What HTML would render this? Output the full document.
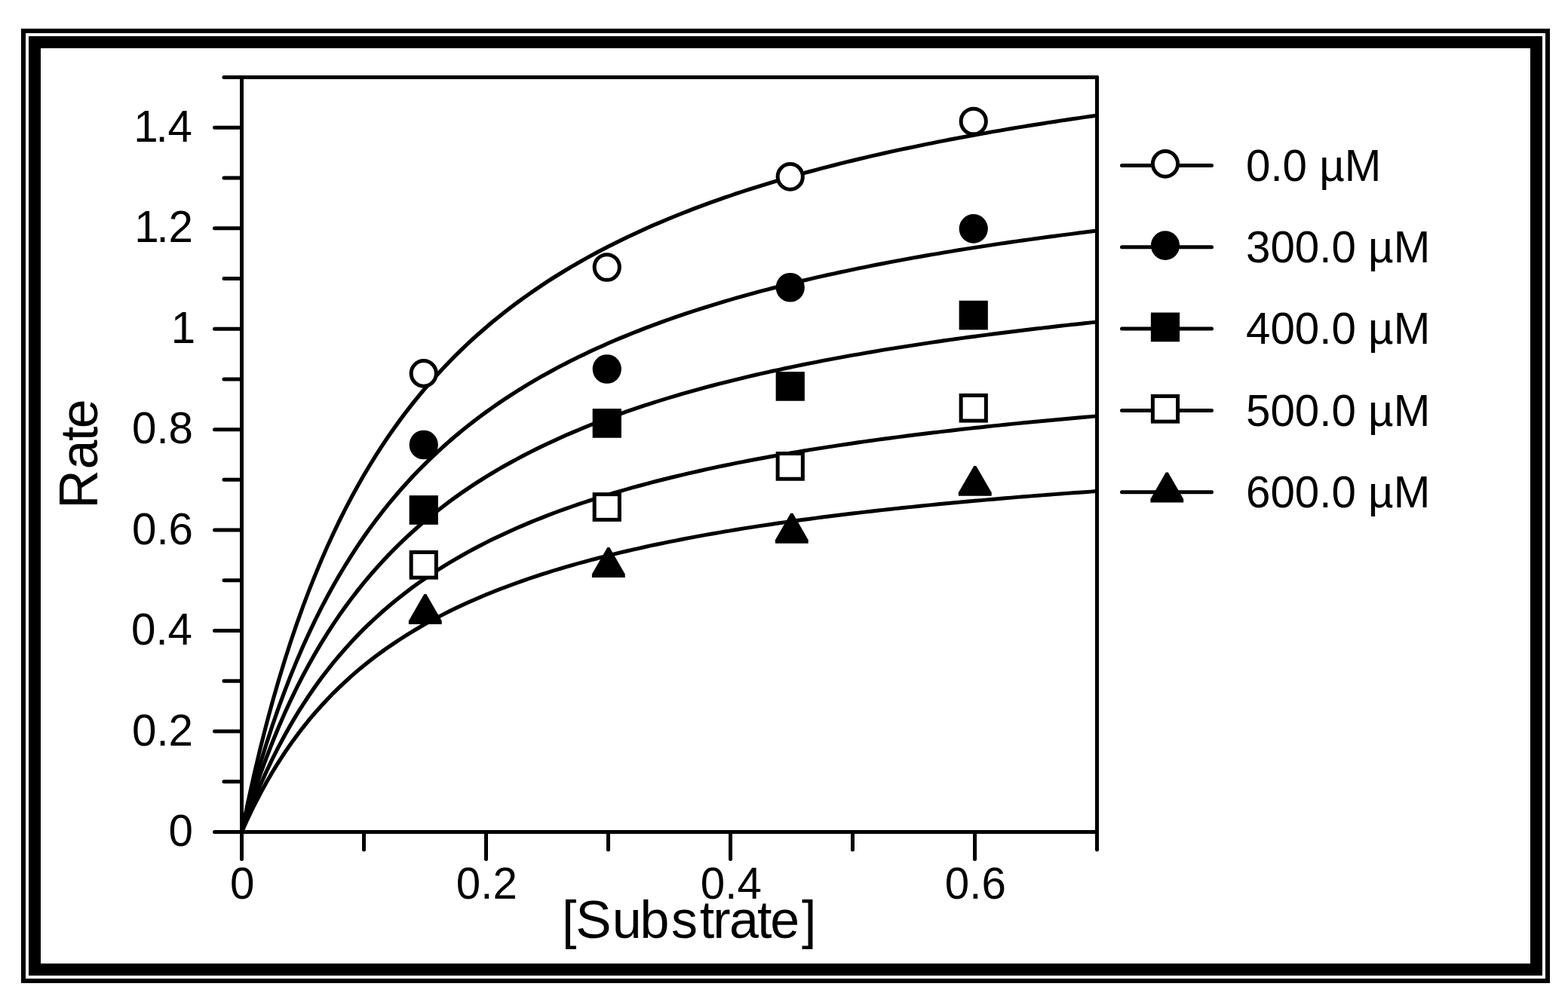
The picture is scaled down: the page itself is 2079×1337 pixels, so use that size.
<!DOCTYPE html>
<html lang="en"><head><meta charset="utf-8"><title>Rate vs [Substrate]</title>
<style>
html,body{margin:0;padding:0;background:#fff;}
body{width:2079px;height:1337px;overflow:hidden;position:relative;}
svg{display:block;position:absolute;left:0;top:0;}
text{font-family:"Liberation Sans",Arial,Helvetica,sans-serif;fill:#000;}
.t{font-size:58.3px;}
.l{font-size:70px;}
.c{font-size:71px;}
.c2{font-size:71.5px;}
</style></head><body>
<svg width="2079" height="1337" viewBox="0 0 2079 1337">
<rect x="0" y="0" width="2079" height="1337" fill="#fff"/>
<g fill="none" stroke="#000">
<rect x="31" y="41" width="2021" height="1260" stroke-width="6"/>
<rect x="46" y="56" width="1991" height="1230" stroke-width="16"/>
</g>
<g fill="none" stroke="#000" stroke-width="5" stroke-linecap="round">
<path d="M320.5 102.5V1139.5"/>
<path d="M284.5 1103.5H1454.5"/>
<path d="M1454.5 102.5V1127.0" stroke-linecap="round"/>
<path d="M297.0 102.5H1454.5"/>
<path d="M297.00 1036.77H320.5M284.50 970.03H320.5M297.00 903.30H320.5M284.50 836.57H320.5M297.00 769.83H320.5M284.50 703.10H320.5M297.00 636.37H320.5M284.50 569.63H320.5M297.00 502.90H320.5M284.50 436.17H320.5M297.00 369.43H320.5M284.50 302.70H320.5M297.00 235.97H320.5M284.50 169.23H320.5M482.50 1103.5V1127.00M644.50 1103.5V1139.50M806.50 1103.5V1127.00M968.50 1103.5V1139.50M1130.50 1103.5V1127.00M1292.50 1103.5V1139.50"/>
</g>
<g fill="none" stroke="#000" stroke-width="4.1" stroke-linejoin="round" stroke-linecap="butt">
<path d="M320.1 1103.1L328.2 1064.1L336.3 1027.6L344.4 993.5L352.5 961.5L360.6 931.4L368.7 903.1L376.8 876.3L384.9 851.1L393.0 827.2L401.1 804.6L409.2 783.1L417.3 762.7L425.4 743.2L433.5 724.7L441.6 707.1L449.7 690.2L457.8 674.1L465.9 658.7L474.0 643.9L482.1 629.7L490.2 616.2L498.3 603.1L506.4 590.6L514.5 578.5L522.6 567.0L530.7 555.8L538.8 545.0L546.9 534.6L555.0 524.6L563.1 514.9L571.2 505.6L579.3 496.6L587.4 487.8L595.5 479.3L603.6 471.1L611.7 463.2L619.8 455.5L627.9 448.0L636.0 440.8L644.1 433.8L652.2 426.9L660.3 420.3L668.4 413.9L676.5 407.6L684.6 401.5L692.7 395.6L700.8 389.8L708.9 384.2L717.0 378.7L725.1 373.3L733.2 368.1L741.3 363.1L749.4 358.1L757.5 353.3L765.6 348.6L773.7 344.0L781.8 339.5L789.9 335.1L798.0 330.8L806.1 326.6L814.2 322.5L822.3 318.5L830.4 314.6L838.5 310.8L846.6 307.0L854.7 303.3L862.8 299.7L870.9 296.2L879.0 292.8L887.1 289.4L895.2 286.1L903.3 282.8L911.4 279.7L919.5 276.5L927.6 273.5L935.7 270.5L943.8 267.5L951.9 264.7L960.0 261.8L968.1 259.1L976.2 256.3L984.3 253.6L992.4 251.0L1000.5 248.4L1008.6 245.9L1016.7 243.4L1024.8 240.9L1032.9 238.5L1041.0 236.2L1049.1 233.8L1057.2 231.6L1065.3 229.3L1073.4 227.1L1081.5 224.9L1089.6 222.8L1097.7 220.7L1105.8 218.6L1113.9 216.5L1122.0 214.5L1130.1 212.6L1138.2 210.6L1146.3 208.7L1154.4 206.8L1162.5 204.9L1170.6 203.1L1178.7 201.3L1186.8 199.5L1194.9 197.8L1203.0 196.1L1211.1 194.4L1219.2 192.7L1227.3 191.0L1235.4 189.4L1243.5 187.8L1251.6 186.2L1259.7 184.6L1267.8 183.1L1275.9 181.6L1284.0 180.1L1292.1 178.6L1300.2 177.2L1308.3 175.7L1316.4 174.3L1324.5 172.9L1332.6 171.5L1340.7 170.1L1348.8 168.8L1356.9 167.5L1365.0 166.1L1373.1 164.9L1381.2 163.6L1389.3 162.3L1397.4 161.1L1405.5 159.8L1413.6 158.6L1421.7 157.4L1429.8 156.2L1437.9 155.0L1446.0 153.9L1454.1 152.7"/>
<path d="M320.9 1103.9L329.0 1064.9L337.1 1028.4L345.2 994.3L353.3 962.3L361.4 932.2L369.5 903.9L377.6 877.1L385.7 851.9L393.8 828.0L401.9 805.4L410.0 783.9L418.1 763.5L426.2 744.0L434.3 725.5L442.4 707.9L450.5 691.0L458.6 674.9L466.7 659.5L474.8 644.7L482.9 630.5L491.0 617.0L499.1 603.9L507.2 591.4L515.3 579.3L523.4 567.8L531.5 556.6L539.6 545.8L547.7 535.4L555.8 525.4L563.9 515.7L572.0 506.4L580.1 497.4L588.2 488.6L596.3 480.1L604.4 471.9L612.5 464.0L620.6 456.3L628.7 448.8L636.8 441.6L644.9 434.6L653.0 427.7L661.1 421.1L669.2 414.7L677.3 408.4L685.4 402.3L693.5 396.4L701.6 390.6L709.7 385.0L717.8 379.5L725.9 374.1L734.0 368.9L742.1 363.9L750.2 358.9L758.3 354.1L766.4 349.4L774.5 344.8L782.6 340.3L790.7 335.9L798.8 331.6L806.9 327.4L815.0 323.3L823.1 319.3L831.2 315.4L839.3 311.6L847.4 307.8L855.5 304.1L863.6 300.5L871.7 297.0L879.8 293.6L887.9 290.2L896.0 286.9L904.1 283.6L912.2 280.5L920.3 277.3L928.4 274.3L936.5 271.3L944.6 268.3L952.7 265.5L960.8 262.6L968.9 259.9L977.0 257.1L985.1 254.4L993.2 251.8L1001.3 249.2L1009.4 246.7L1017.5 244.2L1025.6 241.7L1033.7 239.3L1041.8 237.0L1049.9 234.6L1058.0 232.4L1066.1 230.1L1074.2 227.9L1082.3 225.7L1090.4 223.6L1098.5 221.5L1106.6 219.4L1114.7 217.3L1122.8 215.3L1130.9 213.4L1139.0 211.4L1147.1 209.5L1155.2 207.6L1163.3 205.7L1171.4 203.9L1179.5 202.1L1187.6 200.3L1195.7 198.6L1203.8 196.9L1211.9 195.2L1220.0 193.5L1228.1 191.8L1236.2 190.2L1244.3 188.6L1252.4 187.0L1260.5 185.4L1268.6 183.9L1276.7 182.4L1284.8 180.9L1292.9 179.4L1301.0 178.0L1309.1 176.5L1317.2 175.1L1325.3 173.7L1333.4 172.3L1341.5 170.9L1349.6 169.6L1357.7 168.3L1365.8 166.9L1373.9 165.7L1382.0 164.4L1390.1 163.1L1398.2 161.9L1406.3 160.6L1414.4 159.4L1422.5 158.2L1430.6 157.0L1438.7 155.8L1446.8 154.7L1454.9 153.5"/>
<path d="M320.1 1103.1L328.2 1071.2L336.3 1041.4L344.4 1013.4L352.5 987.1L360.6 962.3L368.7 939.0L376.8 916.9L384.9 896.0L393.0 876.2L401.1 857.4L409.2 839.6L417.3 822.6L425.4 806.4L433.5 791.0L441.6 776.2L449.7 762.2L457.8 748.7L465.9 735.8L474.0 723.4L482.1 711.5L490.2 700.1L498.3 689.2L506.4 678.7L514.5 668.5L522.6 658.8L530.7 649.4L538.8 640.3L546.9 631.5L555.0 623.1L563.1 614.9L571.2 607.0L579.3 599.4L587.4 592.0L595.5 584.8L603.6 577.9L611.7 571.1L619.8 564.6L627.9 558.3L636.0 552.1L644.1 546.2L652.2 540.4L660.3 534.8L668.4 529.3L676.5 523.9L684.6 518.8L692.7 513.7L700.8 508.8L708.9 504.0L717.0 499.3L725.1 494.8L733.2 490.4L741.3 486.0L749.4 481.8L757.5 477.7L765.6 473.7L773.7 469.8L781.8 465.9L789.9 462.2L798.0 458.5L806.1 454.9L814.2 451.4L822.3 448.0L830.4 444.7L838.5 441.4L846.6 438.2L854.7 435.0L862.8 432.0L870.9 429.0L879.0 426.0L887.1 423.1L895.2 420.3L903.3 417.5L911.4 414.8L919.5 412.1L927.6 409.5L935.7 406.9L943.8 404.4L951.9 401.9L960.0 399.5L968.1 397.1L976.2 394.8L984.3 392.5L992.4 390.2L1000.5 388.0L1008.6 385.8L1016.7 383.7L1024.8 381.6L1032.9 379.5L1041.0 377.5L1049.1 375.5L1057.2 373.5L1065.3 371.6L1073.4 369.7L1081.5 367.8L1089.6 366.0L1097.7 364.1L1105.8 362.4L1113.9 360.6L1122.0 358.9L1130.1 357.2L1138.2 355.5L1146.3 353.9L1154.4 352.2L1162.5 350.6L1170.6 349.1L1178.7 347.5L1186.8 346.0L1194.9 344.5L1203.0 343.0L1211.1 341.5L1219.2 340.1L1227.3 338.6L1235.4 337.2L1243.5 335.9L1251.6 334.5L1259.7 333.2L1267.8 331.8L1275.9 330.5L1284.0 329.2L1292.1 327.9L1300.2 326.7L1308.3 325.5L1316.4 324.2L1324.5 323.0L1332.6 321.8L1340.7 320.6L1348.8 319.5L1356.9 318.3L1365.0 317.2L1373.1 316.1L1381.2 315.0L1389.3 313.9L1397.4 312.8L1405.5 311.7L1413.6 310.7L1421.7 309.7L1429.8 308.6L1437.9 307.6L1446.0 306.6L1454.1 305.6"/>
<path d="M320.9 1103.9L329.0 1072.0L337.1 1042.2L345.2 1014.2L353.3 987.9L361.4 963.1L369.5 939.8L377.6 917.7L385.7 896.8L393.8 877.0L401.9 858.2L410.0 840.4L418.1 823.4L426.2 807.2L434.3 791.8L442.4 777.0L450.5 763.0L458.6 749.5L466.7 736.6L474.8 724.2L482.9 712.3L491.0 700.9L499.1 690.0L507.2 679.5L515.3 669.3L523.4 659.6L531.5 650.2L539.6 641.1L547.7 632.3L555.8 623.9L563.9 615.7L572.0 607.8L580.1 600.2L588.2 592.8L596.3 585.6L604.4 578.7L612.5 571.9L620.6 565.4L628.7 559.1L636.8 552.9L644.9 547.0L653.0 541.2L661.1 535.6L669.2 530.1L677.3 524.7L685.4 519.6L693.5 514.5L701.6 509.6L709.7 504.8L717.8 500.1L725.9 495.6L734.0 491.2L742.1 486.8L750.2 482.6L758.3 478.5L766.4 474.5L774.5 470.6L782.6 466.7L790.7 463.0L798.8 459.3L806.9 455.7L815.0 452.2L823.1 448.8L831.2 445.5L839.3 442.2L847.4 439.0L855.5 435.8L863.6 432.8L871.7 429.8L879.8 426.8L887.9 423.9L896.0 421.1L904.1 418.3L912.2 415.6L920.3 412.9L928.4 410.3L936.5 407.7L944.6 405.2L952.7 402.7L960.8 400.3L968.9 397.9L977.0 395.6L985.1 393.3L993.2 391.0L1001.3 388.8L1009.4 386.6L1017.5 384.5L1025.6 382.4L1033.7 380.3L1041.8 378.3L1049.9 376.3L1058.0 374.3L1066.1 372.4L1074.2 370.5L1082.3 368.6L1090.4 366.8L1098.5 364.9L1106.6 363.2L1114.7 361.4L1122.8 359.7L1130.9 358.0L1139.0 356.3L1147.1 354.7L1155.2 353.0L1163.3 351.4L1171.4 349.9L1179.5 348.3L1187.6 346.8L1195.7 345.3L1203.8 343.8L1211.9 342.3L1220.0 340.9L1228.1 339.4L1236.2 338.0L1244.3 336.7L1252.4 335.3L1260.5 334.0L1268.6 332.6L1276.7 331.3L1284.8 330.0L1292.9 328.7L1301.0 327.5L1309.1 326.3L1317.2 325.0L1325.3 323.8L1333.4 322.6L1341.5 321.4L1349.6 320.3L1357.7 319.1L1365.8 318.0L1373.9 316.9L1382.0 315.8L1390.1 314.7L1398.2 313.6L1406.3 312.5L1414.4 311.5L1422.5 310.5L1430.6 309.4L1438.7 308.4L1446.8 307.4L1454.9 306.4"/>
<path d="M320.1 1103.1L328.2 1076.3L336.3 1051.2L344.4 1027.6L352.5 1005.5L360.6 984.6L368.7 964.9L376.8 946.2L384.9 928.6L393.0 911.9L401.1 896.0L409.2 880.9L417.3 866.6L425.4 852.9L433.5 839.8L441.6 827.3L449.7 815.4L457.8 804.0L465.9 793.1L474.0 782.6L482.1 772.5L490.2 762.8L498.3 753.5L506.4 744.6L514.5 736.0L522.6 727.7L530.7 719.7L538.8 712.0L546.9 704.6L555.0 697.4L563.1 690.5L571.2 683.8L579.3 677.3L587.4 671.0L595.5 664.9L603.6 659.0L611.7 653.3L619.8 647.7L627.9 642.3L636.0 637.1L644.1 632.0L652.2 627.1L660.3 622.3L668.4 617.6L676.5 613.1L684.6 608.7L692.7 604.4L700.8 600.2L708.9 596.1L717.0 592.1L725.1 588.3L733.2 584.5L741.3 580.8L749.4 577.2L757.5 573.7L765.6 570.3L773.7 566.9L781.8 563.6L789.9 560.4L798.0 557.3L806.1 554.3L814.2 551.3L822.3 548.4L830.4 545.5L838.5 542.7L846.6 540.0L854.7 537.3L862.8 534.7L870.9 532.1L879.0 529.6L887.1 527.1L895.2 524.7L903.3 522.3L911.4 520.0L919.5 517.7L927.6 515.5L935.7 513.3L943.8 511.1L951.9 509.0L960.0 506.9L968.1 504.9L976.2 502.9L984.3 500.9L992.4 499.0L1000.5 497.1L1008.6 495.3L1016.7 493.4L1024.8 491.6L1032.9 489.9L1041.0 488.1L1049.1 486.4L1057.2 484.7L1065.3 483.1L1073.4 481.5L1081.5 479.9L1089.6 478.3L1097.7 476.7L1105.8 475.2L1113.9 473.7L1122.0 472.2L1130.1 470.8L1138.2 469.4L1146.3 468.0L1154.4 466.6L1162.5 465.2L1170.6 463.8L1178.7 462.5L1186.8 461.2L1194.9 459.9L1203.0 458.7L1211.1 457.4L1219.2 456.2L1227.3 454.9L1235.4 453.7L1243.5 452.6L1251.6 451.4L1259.7 450.2L1267.8 449.1L1275.9 448.0L1284.0 446.9L1292.1 445.8L1300.2 444.7L1308.3 443.7L1316.4 442.6L1324.5 441.6L1332.6 440.6L1340.7 439.6L1348.8 438.6L1356.9 437.6L1365.0 436.6L1373.1 435.6L1381.2 434.7L1389.3 433.8L1397.4 432.8L1405.5 431.9L1413.6 431.0L1421.7 430.1L1429.8 429.3L1437.9 428.4L1446.0 427.5L1454.1 426.7"/>
<path d="M320.9 1103.9L329.0 1077.1L337.1 1052.0L345.2 1028.4L353.3 1006.3L361.4 985.4L369.5 965.7L377.6 947.0L385.7 929.4L393.8 912.7L401.9 896.8L410.0 881.7L418.1 867.4L426.2 853.7L434.3 840.6L442.4 828.1L450.5 816.2L458.6 804.8L466.7 793.9L474.8 783.4L482.9 773.3L491.0 763.6L499.1 754.3L507.2 745.4L515.3 736.8L523.4 728.5L531.5 720.5L539.6 712.8L547.7 705.4L555.8 698.2L563.9 691.3L572.0 684.6L580.1 678.1L588.2 671.8L596.3 665.7L604.4 659.8L612.5 654.1L620.6 648.5L628.7 643.1L636.8 637.9L644.9 632.8L653.0 627.9L661.1 623.1L669.2 618.4L677.3 613.9L685.4 609.5L693.5 605.2L701.6 601.0L709.7 596.9L717.8 592.9L725.9 589.1L734.0 585.3L742.1 581.6L750.2 578.0L758.3 574.5L766.4 571.1L774.5 567.7L782.6 564.4L790.7 561.2L798.8 558.1L806.9 555.1L815.0 552.1L823.1 549.2L831.2 546.3L839.3 543.5L847.4 540.8L855.5 538.1L863.6 535.5L871.7 532.9L879.8 530.4L887.9 527.9L896.0 525.5L904.1 523.1L912.2 520.8L920.3 518.5L928.4 516.3L936.5 514.1L944.6 511.9L952.7 509.8L960.8 507.7L968.9 505.7L977.0 503.7L985.1 501.7L993.2 499.8L1001.3 497.9L1009.4 496.1L1017.5 494.2L1025.6 492.4L1033.7 490.7L1041.8 488.9L1049.9 487.2L1058.0 485.5L1066.1 483.9L1074.2 482.3L1082.3 480.7L1090.4 479.1L1098.5 477.5L1106.6 476.0L1114.7 474.5L1122.8 473.0L1130.9 471.6L1139.0 470.2L1147.1 468.8L1155.2 467.4L1163.3 466.0L1171.4 464.6L1179.5 463.3L1187.6 462.0L1195.7 460.7L1203.8 459.5L1211.9 458.2L1220.0 457.0L1228.1 455.7L1236.2 454.5L1244.3 453.4L1252.4 452.2L1260.5 451.0L1268.6 449.9L1276.7 448.8L1284.8 447.7L1292.9 446.6L1301.0 445.5L1309.1 444.5L1317.2 443.4L1325.3 442.4L1333.4 441.4L1341.5 440.4L1349.6 439.4L1357.7 438.4L1365.8 437.4L1373.9 436.4L1382.0 435.5L1390.1 434.6L1398.2 433.6L1406.3 432.7L1414.4 431.8L1422.5 430.9L1430.6 430.1L1438.7 429.2L1446.8 428.3L1454.9 427.5"/>
<path d="M320.1 1103.1L328.2 1081.3L336.3 1060.9L344.4 1041.7L352.5 1023.6L360.6 1006.6L368.7 990.6L376.8 975.4L384.9 961.1L393.0 947.4L401.1 934.5L409.2 922.2L417.3 910.5L425.4 899.3L433.5 888.7L441.6 878.5L449.7 868.8L457.8 859.5L465.9 850.6L474.0 842.0L482.1 833.8L490.2 825.9L498.3 818.4L506.4 811.1L514.5 804.1L522.6 797.3L530.7 790.8L538.8 784.5L546.9 778.4L555.0 772.6L563.1 766.9L571.2 761.4L579.3 756.1L587.4 751.0L595.5 746.0L603.6 741.2L611.7 736.6L619.8 732.0L627.9 727.6L636.0 723.4L644.1 719.2L652.2 715.2L660.3 711.3L668.4 707.5L676.5 703.8L684.6 700.2L692.7 696.7L700.8 693.2L708.9 689.9L717.0 686.7L725.1 683.5L733.2 680.4L741.3 677.4L749.4 674.5L757.5 671.6L765.6 668.8L773.7 666.1L781.8 663.4L789.9 660.8L798.0 658.2L806.1 655.8L814.2 653.3L822.3 650.9L830.4 648.6L838.5 646.3L846.6 644.1L854.7 641.9L862.8 639.7L870.9 637.6L879.0 635.6L887.1 633.6L895.2 631.6L903.3 629.7L911.4 627.8L919.5 625.9L927.6 624.1L935.7 622.3L943.8 620.5L951.9 618.8L960.0 617.1L968.1 615.4L976.2 613.8L984.3 612.2L992.4 610.6L1000.5 609.1L1008.6 607.6L1016.7 606.1L1024.8 604.6L1032.9 603.2L1041.0 601.7L1049.1 600.3L1057.2 599.0L1065.3 597.6L1073.4 596.3L1081.5 595.0L1089.6 593.7L1097.7 592.4L1105.8 591.2L1113.9 590.0L1122.0 588.8L1130.1 587.6L1138.2 586.4L1146.3 585.2L1154.4 584.1L1162.5 583.0L1170.6 581.9L1178.7 580.8L1186.8 579.7L1194.9 578.7L1203.0 577.6L1211.1 576.6L1219.2 575.6L1227.3 574.6L1235.4 573.6L1243.5 572.7L1251.6 571.7L1259.7 570.8L1267.8 569.9L1275.9 568.9L1284.0 568.0L1292.1 567.1L1300.2 566.3L1308.3 565.4L1316.4 564.5L1324.5 563.7L1332.6 562.9L1340.7 562.0L1348.8 561.2L1356.9 560.4L1365.0 559.6L1373.1 558.9L1381.2 558.1L1389.3 557.3L1397.4 556.6L1405.5 555.8L1413.6 555.1L1421.7 554.4L1429.8 553.6L1437.9 552.9L1446.0 552.2L1454.1 551.5"/>
<path d="M320.9 1103.9L329.0 1082.1L337.1 1061.7L345.2 1042.5L353.3 1024.4L361.4 1007.4L369.5 991.4L377.6 976.2L385.7 961.9L393.8 948.2L401.9 935.3L410.0 923.0L418.1 911.3L426.2 900.1L434.3 889.5L442.4 879.3L450.5 869.6L458.6 860.3L466.7 851.4L474.8 842.8L482.9 834.6L491.0 826.7L499.1 819.2L507.2 811.9L515.3 804.9L523.4 798.1L531.5 791.6L539.6 785.3L547.7 779.2L555.8 773.4L563.9 767.7L572.0 762.2L580.1 756.9L588.2 751.8L596.3 746.8L604.4 742.0L612.5 737.4L620.6 732.8L628.7 728.4L636.8 724.2L644.9 720.0L653.0 716.0L661.1 712.1L669.2 708.3L677.3 704.6L685.4 701.0L693.5 697.5L701.6 694.0L709.7 690.7L717.8 687.5L725.9 684.3L734.0 681.2L742.1 678.2L750.2 675.3L758.3 672.4L766.4 669.6L774.5 666.9L782.6 664.2L790.7 661.6L798.8 659.0L806.9 656.6L815.0 654.1L823.1 651.7L831.2 649.4L839.3 647.1L847.4 644.9L855.5 642.7L863.6 640.5L871.7 638.4L879.8 636.4L887.9 634.4L896.0 632.4L904.1 630.5L912.2 628.6L920.3 626.7L928.4 624.9L936.5 623.1L944.6 621.3L952.7 619.6L960.8 617.9L968.9 616.2L977.0 614.6L985.1 613.0L993.2 611.4L1001.3 609.9L1009.4 608.4L1017.5 606.9L1025.6 605.4L1033.7 604.0L1041.8 602.5L1049.9 601.1L1058.0 599.8L1066.1 598.4L1074.2 597.1L1082.3 595.8L1090.4 594.5L1098.5 593.2L1106.6 592.0L1114.7 590.8L1122.8 589.6L1130.9 588.4L1139.0 587.2L1147.1 586.0L1155.2 584.9L1163.3 583.8L1171.4 582.7L1179.5 581.6L1187.6 580.5L1195.7 579.5L1203.8 578.4L1211.9 577.4L1220.0 576.4L1228.1 575.4L1236.2 574.4L1244.3 573.5L1252.4 572.5L1260.5 571.6L1268.6 570.7L1276.7 569.7L1284.8 568.8L1292.9 567.9L1301.0 567.1L1309.1 566.2L1317.2 565.3L1325.3 564.5L1333.4 563.7L1341.5 562.8L1349.6 562.0L1357.7 561.2L1365.8 560.4L1373.9 559.7L1382.0 558.9L1390.1 558.1L1398.2 557.4L1406.3 556.6L1414.4 555.9L1422.5 555.2L1430.6 554.4L1438.7 553.7L1446.8 553.0L1454.9 552.3"/>
<path d="M320.1 1103.1L328.2 1085.2L336.3 1068.4L344.4 1052.7L352.5 1037.9L360.6 1024.0L368.7 1010.8L376.8 998.4L384.9 986.6L393.0 975.4L401.1 964.8L409.2 954.7L417.3 945.2L425.4 936.0L433.5 927.3L441.6 918.9L449.7 911.0L457.8 903.4L465.9 896.0L474.0 889.0L482.1 882.3L490.2 875.9L498.3 869.6L506.4 863.7L514.5 857.9L522.6 852.4L530.7 847.1L538.8 841.9L546.9 836.9L555.0 832.1L563.1 827.5L571.2 823.0L579.3 818.7L587.4 814.5L595.5 810.4L603.6 806.4L611.7 802.6L619.8 798.9L627.9 795.3L636.0 791.8L644.1 788.4L652.2 785.1L660.3 781.9L668.4 778.8L676.5 775.8L684.6 772.8L692.7 769.9L700.8 767.1L708.9 764.4L717.0 761.8L725.1 759.2L733.2 756.6L741.3 754.2L749.4 751.8L757.5 749.4L765.6 747.1L773.7 744.9L781.8 742.7L789.9 740.6L798.0 738.5L806.1 736.4L814.2 734.4L822.3 732.5L830.4 730.6L838.5 728.7L846.6 726.9L854.7 725.1L862.8 723.3L870.9 721.6L879.0 719.9L887.1 718.3L895.2 716.7L903.3 715.1L911.4 713.5L919.5 712.0L927.6 710.5L935.7 709.0L943.8 707.6L951.9 706.2L960.0 704.8L968.1 703.4L976.2 702.1L984.3 700.8L992.4 699.5L1000.5 698.2L1008.6 697.0L1016.7 695.8L1024.8 694.6L1032.9 693.4L1041.0 692.2L1049.1 691.1L1057.2 689.9L1065.3 688.8L1073.4 687.8L1081.5 686.7L1089.6 685.6L1097.7 684.6L1105.8 683.6L1113.9 682.6L1122.0 681.6L1130.1 680.6L1138.2 679.7L1146.3 678.7L1154.4 677.8L1162.5 676.9L1170.6 676.0L1178.7 675.1L1186.8 674.2L1194.9 673.3L1203.0 672.5L1211.1 671.7L1219.2 670.8L1227.3 670.0L1235.4 669.2L1243.5 668.4L1251.6 667.6L1259.7 666.9L1267.8 666.1L1275.9 665.4L1284.0 664.6L1292.1 663.9L1300.2 663.2L1308.3 662.5L1316.4 661.8L1324.5 661.1L1332.6 660.4L1340.7 659.7L1348.8 659.0L1356.9 658.4L1365.0 657.7L1373.1 657.1L1381.2 656.5L1389.3 655.8L1397.4 655.2L1405.5 654.6L1413.6 654.0L1421.7 653.4L1429.8 652.8L1437.9 652.3L1446.0 651.7L1454.1 651.1"/>
<path d="M320.9 1103.9L329.0 1086.0L337.1 1069.2L345.2 1053.5L353.3 1038.7L361.4 1024.8L369.5 1011.6L377.6 999.2L385.7 987.4L393.8 976.2L401.9 965.6L410.0 955.5L418.1 946.0L426.2 936.8L434.3 928.1L442.4 919.7L450.5 911.8L458.6 904.2L466.7 896.8L474.8 889.8L482.9 883.1L491.0 876.7L499.1 870.4L507.2 864.5L515.3 858.7L523.4 853.2L531.5 847.9L539.6 842.7L547.7 837.7L555.8 832.9L563.9 828.3L572.0 823.8L580.1 819.5L588.2 815.3L596.3 811.2L604.4 807.2L612.5 803.4L620.6 799.7L628.7 796.1L636.8 792.6L644.9 789.2L653.0 785.9L661.1 782.7L669.2 779.6L677.3 776.6L685.4 773.6L693.5 770.7L701.6 767.9L709.7 765.2L717.8 762.6L725.9 760.0L734.0 757.4L742.1 755.0L750.2 752.6L758.3 750.2L766.4 747.9L774.5 745.7L782.6 743.5L790.7 741.4L798.8 739.3L806.9 737.2L815.0 735.2L823.1 733.3L831.2 731.4L839.3 729.5L847.4 727.7L855.5 725.9L863.6 724.1L871.7 722.4L879.8 720.7L887.9 719.1L896.0 717.5L904.1 715.9L912.2 714.3L920.3 712.8L928.4 711.3L936.5 709.8L944.6 708.4L952.7 707.0L960.8 705.6L968.9 704.2L977.0 702.9L985.1 701.6L993.2 700.3L1001.3 699.0L1009.4 697.8L1017.5 696.6L1025.6 695.4L1033.7 694.2L1041.8 693.0L1049.9 691.9L1058.0 690.7L1066.1 689.6L1074.2 688.6L1082.3 687.5L1090.4 686.4L1098.5 685.4L1106.6 684.4L1114.7 683.4L1122.8 682.4L1130.9 681.4L1139.0 680.5L1147.1 679.5L1155.2 678.6L1163.3 677.7L1171.4 676.8L1179.5 675.9L1187.6 675.0L1195.7 674.1L1203.8 673.3L1211.9 672.5L1220.0 671.6L1228.1 670.8L1236.2 670.0L1244.3 669.2L1252.4 668.4L1260.5 667.7L1268.6 666.9L1276.7 666.2L1284.8 665.4L1292.9 664.7L1301.0 664.0L1309.1 663.3L1317.2 662.6L1325.3 661.9L1333.4 661.2L1341.5 660.5L1349.6 659.8L1357.7 659.2L1365.8 658.5L1373.9 657.9L1382.0 657.3L1390.1 656.6L1398.2 656.0L1406.3 655.4L1414.4 654.8L1422.5 654.2L1430.6 653.6L1438.7 653.1L1446.8 652.5L1454.9 651.9"/>
</g>
<g>
<ellipse cx="561.75" cy="495.3" rx="16.60" ry="16.85" fill="#fff" stroke="#000" stroke-width="5.0"/>
<ellipse cx="804.75" cy="354.5" rx="16.60" ry="16.85" fill="#fff" stroke="#000" stroke-width="5.0"/>
<ellipse cx="1047.75" cy="234.4" rx="16.60" ry="16.85" fill="#fff" stroke="#000" stroke-width="5.0"/>
<ellipse cx="1290.75" cy="161.0" rx="16.60" ry="16.85" fill="#fff" stroke="#000" stroke-width="5.0"/>
<ellipse cx="561.75" cy="590.0" rx="19.10" ry="19.35" fill="#000"/>
<ellipse cx="804.75" cy="489.5" rx="19.10" ry="19.35" fill="#000"/>
<ellipse cx="1047.75" cy="381.25" rx="19.10" ry="19.35" fill="#000"/>
<ellipse cx="1290.75" cy="303.4" rx="19.10" ry="19.35" fill="#000"/>
<rect x="542.65" y="657.15" width="38.20" height="38.70" fill="#000"/>
<rect x="785.65" y="542.05" width="38.20" height="38.70" fill="#000"/>
<rect x="1028.65" y="493.05" width="38.20" height="38.70" fill="#000"/>
<rect x="1271.65" y="398.75" width="38.20" height="38.70" fill="#000"/>
<rect x="545.15" y="732.45" width="33.20" height="33.70" fill="#fff" stroke="#000" stroke-width="5.0"/>
<rect x="788.15" y="655.65" width="33.20" height="33.70" fill="#fff" stroke="#000" stroke-width="5.0"/>
<rect x="1031.15" y="601.55" width="33.20" height="33.70" fill="#fff" stroke="#000" stroke-width="5.0"/>
<rect x="1274.15" y="524.40" width="33.20" height="33.70" fill="#fff" stroke="#000" stroke-width="5.0"/>
<polygon points="562.30,788.00 565.30,788.00 585.70,823.40 585.70,827.90 541.90,827.90 541.90,823.40" fill="#000"/>
<polygon points="805.30,726.00 808.30,726.00 828.70,761.40 828.70,765.90 784.90,765.90 784.90,761.40" fill="#000"/>
<polygon points="1048.30,680.75 1051.30,680.75 1071.70,716.15 1071.70,720.65 1027.90,720.65 1027.90,716.15" fill="#000"/>
<polygon points="1291.30,617.90 1294.30,617.90 1314.70,653.30 1314.70,657.80 1270.90,657.80 1270.90,653.30" fill="#000"/>
</g>
<g>
<path d="M1487.5 219.5H1606.5" stroke="#000" stroke-width="5" stroke-linecap="round" fill="none"/>
<ellipse cx="1545.0" cy="217.3" rx="16.60" ry="16.85" fill="#fff" stroke="#000" stroke-width="5.0"/>
<text class="t" x="1652" y="239.5">0.0 µM</text>
<path d="M1487.5 327.8H1606.5" stroke="#000" stroke-width="5" stroke-linecap="round" fill="none"/>
<ellipse cx="1545.0" cy="325.6" rx="19.10" ry="19.35" fill="#000"/>
<text class="t" x="1652" y="347.8">300.0 µM</text>
<path d="M1487.5 436.1H1606.5" stroke="#000" stroke-width="5" stroke-linecap="round" fill="none"/>
<rect x="1525.90" y="414.55" width="38.20" height="38.70" fill="#000"/>
<text class="t" x="1652" y="456.1">400.0 µM</text>
<path d="M1487.5 544.5H1606.5" stroke="#000" stroke-width="5" stroke-linecap="round" fill="none"/>
<rect x="1528.40" y="525.45" width="33.20" height="33.70" fill="#fff" stroke="#000" stroke-width="5.0"/>
<text class="t" x="1652" y="564.5">500.0 µM</text>
<path d="M1487.5 652.7H1606.5" stroke="#000" stroke-width="5" stroke-linecap="round" fill="none"/>
<polygon points="1545.80,626.60 1548.80,626.60 1569.20,662.00 1569.20,666.50 1525.40,666.50 1525.40,662.00" fill="#000"/>
<text class="t" x="1652" y="672.7">600.0 µM</text>
</g>
<g class="t">
<text class="t" x="223.58" y="1122.0">0</text>
<text class="t" x="174.96 207.38 223.58" y="988.5">0.2</text>
<text class="t" x="173.96 206.38 222.58" y="855.1">0.4</text>
<text class="t" x="174.96 207.38 223.58" y="721.6">0.6</text>
<text class="t" x="174.96 207.38 223.58" y="588.1">0.8</text>
<text class="t" x="226.78" y="454.7">1</text>
<text class="t" x="178.16 207.38 223.58" y="321.2">1.2</text>
<text class="t" x="177.16 206.38 222.58" y="187.7">1.4</text>
<text class="t" text-anchor="middle" x="321.3" y="1192">0</text>
<text class="t" text-anchor="middle" x="645.3" y="1192">0.2</text>
<text class="t" text-anchor="middle" x="969.3" y="1192">0.4</text>
<text class="t" text-anchor="middle" x="1293.3" y="1192">0.6</text>
</g>
<text class="l" x="744.97 763.18 811.75 848.49 889.95 927.84 945.15 966.93 1003.94 1021.13 1063.05" y="1244.1">[<tspan class="c">S</tspan>ubstrate]</text>
<text class="l" x="-5.87 46.63 83.94 100.83" y="0" transform="translate(129.2 669) rotate(-90)"><tspan class="c2">R</tspan>ate</text>
</svg>
</body></html>
